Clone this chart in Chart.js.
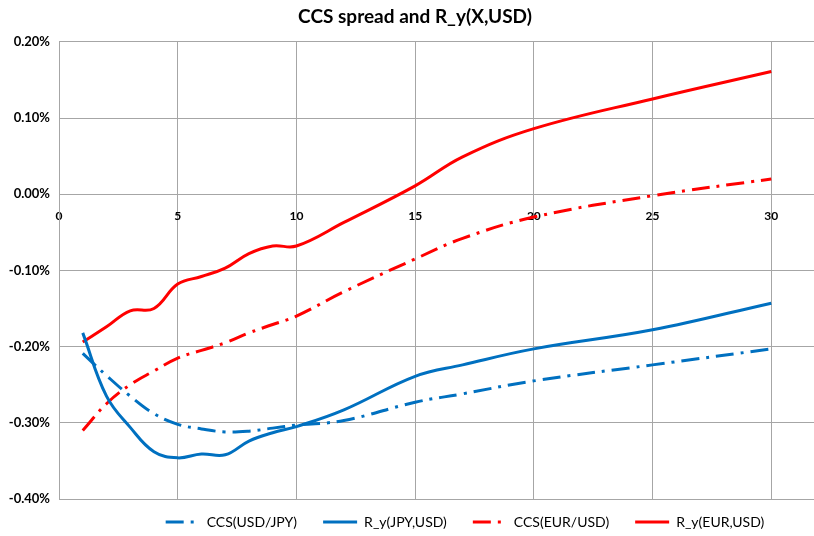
<!DOCTYPE html>
<html>
<head>
<meta charset="utf-8">
<script src="https://cdn.jsdelivr.net/npm/chart.js@4"></script>
<style>
  html, body { margin: 0; padding: 0; background: #fff; }
  #wrap { width: 814px; height: 536px; }
</style>
</head>
<body>
<div id="wrap"><canvas id="linechart"></canvas></div>
<script>
// tenors (years) and values in %
var tenors = [1, 2, 3, 4, 5, 6, 7, 8, 9, 10, 12, 15, 17, 20, 25, 30];
var ccsUsdJpy = [-0.209, -0.238, -0.265, -0.288, -0.302, -0.308, -0.312, -0.311, -0.307, -0.303, -0.297, -0.273, -0.262, -0.245, -0.224, -0.203];
var ryJpyUsd = [-0.182, -0.265, -0.306, -0.338, -0.346, -0.341, -0.342, -0.324, -0.313, -0.305, -0.283, -0.239, -0.224, -0.203, -0.178, -0.143];
var ccsEurUsd = [-0.310, -0.275, -0.250, -0.232, -0.215, -0.205, -0.195, -0.182, -0.171, -0.160, -0.128, -0.085, -0.058, -0.030, -0.002, 0.020];
var ryEurUsd = [-0.194, -0.174, -0.153, -0.150, -0.118, -0.108, -0.097, -0.078, -0.068, -0.068, -0.037, 0.011, 0.049, 0.086, 0.125, 0.161];
var xTicks = [0, 5, 10, 15, 20, 25, 30];
var yTicks = [-0.4, -0.3, -0.2, -0.1, 0, 0.1, 0.2];

function pts(vals) {
    return tenors.map(function (t, i) { return { x: t, y: vals[i] }; });
}

var blue = "#0070C0";
var red = "#FF0000";
var dashDot = [18, 7, 3, 7];
var font = "Lato, 'Open Sans', sans-serif";

// legend and title sit a bit right of centre in the original
var nudge = {
    id: 'nudge',
    afterLayout: function (chart) {
        var lg = chart.legend;
        lg.left += 58; lg.right += 58;
        lg.top -= 10;
        var tb = chart.titleBlock;
        tb.left += 8; tb.right += 8;
    }
};

var chart1 = document.getElementById("linechart");

var myChart1 = new Chart(chart1, {
type: 'line',
data: {
    datasets: [{
        label: 'CCS(USD/JPY)',
        data: pts(ccsUsdJpy),
        borderColor: blue,
        backgroundColor: blue,
        borderWidth: 3,
        borderDash: dashDot,
    }, {
        label: 'R_y(JPY,USD)',
        data: pts(ryJpyUsd),
        borderColor: blue,
        backgroundColor: blue,
        borderWidth: 3,
    }, {
        label: 'CCS(EUR/USD)',
        data: pts(ccsEurUsd),
        borderColor: red,
        backgroundColor: red,
        borderWidth: 3,
        borderDash: dashDot,
    }, {
        label: 'R_y(EUR,USD)',
        data: pts(ryEurUsd),
        borderColor: red,
        backgroundColor: red,
        borderWidth: 3,
    }]
},
plugins: [nudge],
options: {
    responsive: true,
    maintainAspectRatio: false,
    animation: false,
    layout: { padding: { left: 0, right: 0, top: 0, bottom: 0 } },
    elements: {
        point: { radius: 0 },
        line: { tension: 0.4, fill: false }
    },
    scales: {
        x: {
            type: 'linear',
            position: { y: 0 },
            min: 0,
            max: 31.8,
            afterBuildTicks: function (s) {
                s.ticks = xTicks.map(function (v) { return { value: v }; });
            },
            border: { display: false },
            grid: { color: '#a6a6a6', lineWidth: 1, drawTicks: false },
            ticks: {
                padding: 15,
                color: '#000',
                font: { family: font, size: 12, weight: 'bold' },
                maxRotation: 0,
            }
        },
        y: {
            min: -0.4,
            max: 0.2,
            afterBuildTicks: function (s) {
                s.ticks = yTicks.map(function (v) { return { value: v }; });
            },
            afterFit: function (s) { s.width = 59; },
            border: { display: true, color: '#a6a6a6' },
            grid: { color: '#a6a6a6', lineWidth: 1, drawTicks: false },
            ticks: {
                padding: 9,
                color: '#000',
                font: { family: font, size: 13, weight: 'bold' },
                callback: function (v) { return v.toFixed(2) + '%'; }
            }
        }
    },
    plugins: {
        legend: {
            display: true,
            position: 'bottom',
            maxHeight: 37,
            labels: {
                usePointStyle: true,
                pointStyle: 'line',
                pointStyleWidth: 34,
                padding: 26,
                color: '#000',
                font: { family: font, size: 14 },
                generateLabels: function (chart) {
                    var items = Chart.defaults.plugins.legend.labels.generateLabels(chart);
                    items.forEach(function (it) {
                        it.lineDash = chart.data.datasets[it.datasetIndex].borderDash || [];
                        it.lineWidth = 3;
                    });
                    return items;
                }
            }
        },
        title: {
            display: true,
            text: 'CCS spread and R_y(X,USD)',
            color: '#000',
            padding: { top: 5, bottom: 14 },
            font: { family: font, size: 19, weight: 'bold' }
        },
        tooltip: { enabled: false }
    },
}
});
</script>
</body>
</html>
